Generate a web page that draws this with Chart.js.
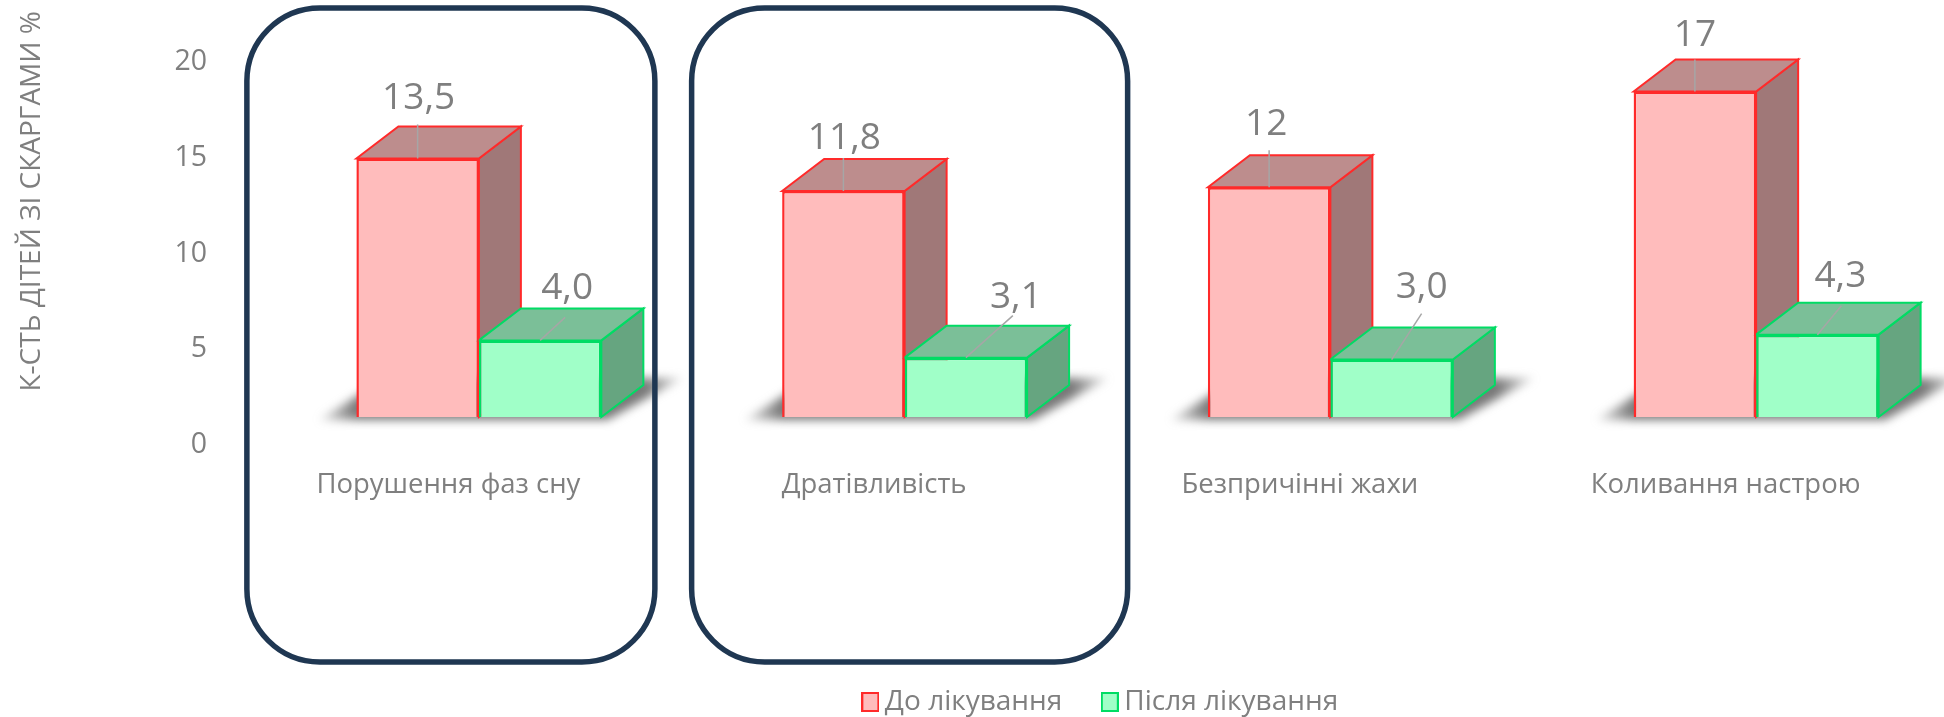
<!DOCTYPE html>
<html><head><meta charset="utf-8">
<style>html,body{margin:0;padding:0;background:#fff;overflow:hidden}
#w{position:absolute;left:0;top:0;width:1944px;height:717px;overflow:hidden}
canvas{display:block}</style>
<script src="https://cdn.jsdelivr.net/npm/chart.js@4/dist/chart.umd.min.js"></script>
</head><body><div id="w"><canvas id="c" width="1969" height="717"></canvas></div>
<script>
// --- data ---
const categories = ['Порушення фаз сну','Дратівливість','Безпричінні жахи','Коливання настрою'];
const seriesNames = ['До лікування','Після лікування'];
const beforeValues = [13.5,11.8,12,17];
const afterValues = [4.0,3.1,3.0,4.3];
const beforeLabels = ['13,5','11,8','12','17'];
const afterLabels = ['4,0','3,1','3,0','4,3'];
const tickValues = [0,5,10,15,20];
const axisTitle = 'К-СТЬ ДІТЕЙ ЗІ СКАРГАМИ %';

// --- style / layout ---
const FONT = '"Open Sans"';
const GREY = '#7f7f7f';
const UNIT = 19.15;              // px per value unit
const DEPTH = {x:42, y:32};      // 3D extrusion
const TOP = 11, FRONT0 = 417, TICK0 = 445, LEFT = 266, CAT = 425.8, PADL = 239;
const styleA = {front:'#ffbcbc', border:'#ff2a2a', side:'#a07878', top:'#bd8d8d'};
const styleB = {front:'#a0ffc8', border:'#00dc64', side:'#66a580', top:'#7bbf98'};
// leader end / label centre relative to top-centre of the bar front
const beforeLeader = [[0,-34],[0,-33],[0,-37],[0,-32]];
const afterLeader  = [[25,-23],[47,-42],[30,-46],[24,-29]];
const beforeText = [[1,-60],[1,-53],[-3,-63],[0,-56]];
const afterText  = [[27,-52],[50,-60],[30,-72],[23,-58]];
const highlights = [{cat:0,l:-232,r:176},{cat:1,l:-213,r:223}];

function swatch(s){
  const k=document.createElement('canvas');k.width=18;k.height=20;
  const g=k.getContext('2d');g.fillStyle=s.front;g.strokeStyle=s.border;g.lineWidth=2;
  g.fillRect(1,1,16,18);g.strokeRect(1,1,16,18);return k;
}
const swatches=[swatch(styleA),swatch(styleB)];

function poly(ctx,pts,fill){ctx.beginPath();pts.forEach((p,i)=>i?ctx.lineTo(p[0],p[1]):ctx.moveTo(p[0],p[1]));ctx.closePath();
  ctx.fillStyle=fill;ctx.fill();}
function polyS(ctx,pts,fill,stroke){poly(ctx,pts,fill);ctx.strokeStyle=stroke;ctx.lineWidth=2;ctx.stroke();}

const box3d={id:'box3d',
  beforeDatasetsDraw(chart){
    const ctx=chart.ctx,m0=chart.getDatasetMeta(0),m1=chart.getDatasetMeta(1);
    ctx.save();
    // floor shadow
    m0.data.forEach((bar,i)=>{
      const l=bar.x-bar.width/2,r=m1.data[i].x+m1.data[i].width/2,b=bar.base;
      const g=ctx.createLinearGradient(l-44,0,r+88,0),w=r+88-(l-44);
      g.addColorStop(0,'rgba(120,120,120,0)');
      g.addColorStop(44/w,'rgba(120,120,120,1)');
      g.addColorStop((w-44)/w,'rgba(120,120,120,1)');
      g.addColorStop(1,'rgba(120,120,120,0)');
      ctx.save();ctx.filter='blur(5px)';
      poly(ctx,[[l-38,b+3],[r+6,b+3],[r+82,b-39],[l+30,b-39]],g);
      ctx.restore();
    });
    // extruded faces
    [[m0,styleA],[m1,styleB]].forEach(([m,s])=>{
      m.data.forEach(bar=>{
        const l=bar.x-bar.width/2,r=bar.x+bar.width/2,t=bar.y,b=bar.base,d=DEPTH;
        polyS(ctx,[[r,t],[r+d.x,t-d.y],[r+d.x,b-d.y],[r,b]],s.side,s.border);
        polyS(ctx,[[l,t],[l+d.x,t-d.y],[r+d.x,t-d.y],[r,t]],s.top,s.border);
      });
    });
    ctx.restore();
  },
  afterDatasetsDraw(chart){
    const ctx=chart.ctx;
    ctx.save();
    ctx.font='37px '+FONT;ctx.textAlign='center';ctx.textBaseline='middle';
    [[0,beforeLabels,beforeLeader,beforeText],[1,afterLabels,afterLeader,afterText]].forEach(([d,txt,lead,pos])=>{
      chart.getDatasetMeta(d).data.forEach((bar,i)=>{
        ctx.strokeStyle='#a6a6a6';ctx.lineWidth=1.5;
        ctx.beginPath();ctx.moveTo(bar.x,bar.y);ctx.lineTo(bar.x+lead[i][0],bar.y+lead[i][1]);ctx.stroke();
        ctx.fillStyle=GREY;ctx.fillText(txt[i],bar.x+pos[i][0],bar.y+pos[i][1]);
      });
    });
    ctx.restore();
  },
  afterDraw(chart){
    const ctx=chart.ctx,x=chart.scales.x;
    ctx.save();ctx.strokeStyle='#1f3752';ctx.lineWidth=5.5;
    highlights.forEach(h=>{
      const c=x.getPixelForValue(h.cat);
      ctx.beginPath();ctx.roundRect(c+h.l,8,h.r-h.l,654,73);ctx.stroke();
    });
    ctx.restore();
  }
};

new Chart(document.getElementById('c'),{
  type:'bar',
  data:{labels:categories,datasets:[
    {label:seriesNames[0],data:beforeValues,backgroundColor:styleA.front,borderColor:styleA.border,borderWidth:2.5,yAxisID:'y'},
    {label:seriesNames[1],data:afterValues,backgroundColor:styleB.front,borderColor:styleB.border,borderWidth:2.5,yAxisID:'y'}
  ]},
  options:{
    responsive:false,animation:false,
    layout:{padding:{top:TOP,left:PADL,right:0,bottom:-9}},
    datasets:{bar:{categoryPercentage:245/CAT,barPercentage:1}},
    plugins:{
      tooltip:{enabled:false},
      legend:{position:'bottom',labels:{
        color:GREY,font:{family:FONT,size:28},usePointStyle:true,pointStyleWidth:1,boxHeight:17,padding:47,
        generateLabels(ch){return Chart.defaults.plugins.legend.labels.generateLabels(ch).map((l,i)=>({...l,pointStyle:swatches[i]}));}
      }}
    },
    scales:{
      x:{grid:{display:false},border:{display:false},
        ticks:{color:GREY,font:{family:FONT,size:27.5},labelOffset:-30.5,padding:16,maxRotation:0,autoSkip:false},
        afterFit(s){s.height=196;s.paddingLeft=0;s.paddingRight=0;}},
      y:{display:false,min:(FRONT0-TICK0)/UNIT,max:(FRONT0-TOP)/UNIT},
      yTicks:{position:'left',min:0,max:(TICK0-TOP)/UNIT,
        grid:{display:false},border:{display:false},
        title:{display:true,text:axisTitle,color:GREY,align:'end',font:{family:FONT,size:28},padding:{top:15-PADL,bottom:0}},
        ticks:{color:GREY,font:{family:FONT,size:28.5},mirror:true,crossAlign:'far',padding:-91.6},
        afterBuildTicks(s){s.ticks=tickValues.map(v=>({value:v}));},
        afterFit(s){s.width=LEFT-PADL;s.paddingTop=0;s.paddingBottom=0;}}
    }
  },
  plugins:[box3d]
});
</script></body></html>
